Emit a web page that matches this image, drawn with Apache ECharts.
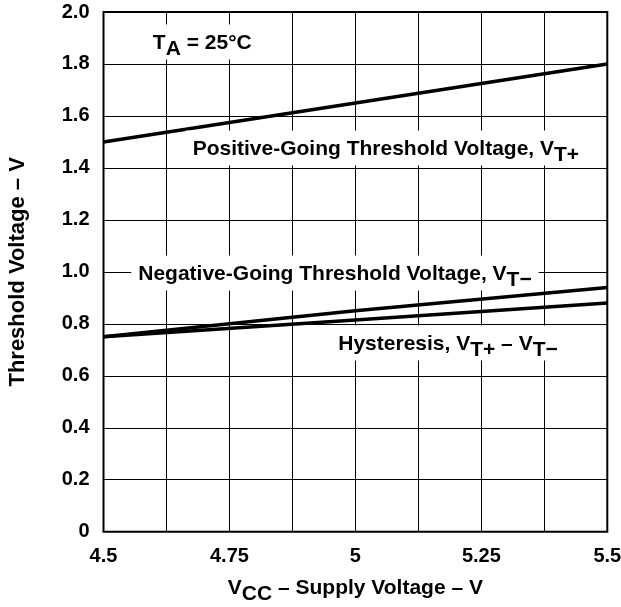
<!DOCTYPE html>
<html>
<head>
<meta charset="utf-8">
<script src="https://cdn.jsdelivr.net/npm/echarts@6/dist/echarts.min.js"></script>
<style>
html,body{margin:0;padding:0;background:#fff;}
#chart{width:621px;height:607px;}
</style>
</head>
<body>
<div id="chart"></div>
<script>
// ---- data ----
const supplyVoltage = [4.5, 5.0, 5.5];
const positiveGoing = [1.5, 1.65, 1.8];
const negativeGoing = [0.75, 0.85, 0.94];
const hysteresis = [0.75, 0.815, 0.88];
const xTickLabels = ['4.5', '4.75', '5', '5.25', '5.5'];
const yTickLabels = ['0', '0.2', '0.4', '0.6', '0.8', '1.0', '1.2', '1.4', '1.6', '1.8', '2.0'];

const FONT = '"Liberation Sans", Arial, Helvetica, sans-serif';
const chart = echarts.init(document.getElementById('chart'), null, {renderer: 'canvas'});

function pairs(xs, ys) { return xs.map((x, i) => [x, ys[i]]); }

const lineStyle = {color: '#000', width: 3.5};
function nS(size) { return {fontFamily: FONT, fontWeight: 'bold', fontSize: size, color: '#000'}; }
function sS(size) { return {fontFamily: FONT, fontWeight: 'bold', fontSize: size, color: '#000', padding: [12, 0, 0, 0]}; }

chart.setOption({
  animation: false,
  backgroundColor: '#fff',
  grid: {left: 103.5, right: 13.7, top: 12, bottom: 75.3, containLabel: false, outerBoundsMode: 'none',
         show: true, borderColor: '#000', borderWidth: 2, backgroundColor: 'transparent'},
  xAxis: {
    type: 'value', min: 4.5, max: 5.5, interval: 0.125,
    name: '{n|V}{s|CC}{n| – Supply Voltage – V}',
    nameLocation: 'middle', nameGap: 40,
    nameTextStyle: {rich: {n: nS(21), s: sS(21)}},
    axisLine: {show: false}, axisTick: {show: false},
    splitLine: {show: true, lineStyle: {color: '#000', width: 1}},
    axisLabel: {
      margin: 15, color: '#000', fontFamily: FONT, fontWeight: 'bold', fontSize: 20,
      formatter: function (v) {
        const k = Math.round((v - 4.5) / 0.25);
        if (Math.abs(v - (4.5 + k * 0.25)) > 1e-6) return '';
        return xTickLabels[k] || '';
      }
    }
  },
  yAxis: {
    type: 'value', min: 0, max: 2, interval: 0.2,
    name: 'Threshold Voltage – V',
    nameLocation: 'middle', nameGap: 75,
    nameTextStyle: {fontFamily: FONT, fontWeight: 'bold', fontSize: 22, color: '#000'},
    axisLine: {show: false}, axisTick: {show: false},
    splitLine: {show: true, lineStyle: {color: '#000', width: 1}},
    axisLabel: {
      margin: 14, color: '#000', fontFamily: FONT, fontWeight: 'bold', fontSize: 20,
      formatter: function (v) { return yTickLabels[Math.round(v / 0.2)] || ''; }
    }
  },
  series: [
    {name: 'Positive-Going', type: 'line', data: pairs(supplyVoltage, positiveGoing), symbol: 'none', lineStyle: lineStyle, z: 5},
    {name: 'Negative-Going', type: 'line', data: pairs(supplyVoltage, negativeGoing), symbol: 'none', lineStyle: lineStyle, z: 5},
    {name: 'Hysteresis', type: 'line', data: pairs(supplyVoltage, hysteresis), symbol: 'none', lineStyle: lineStyle, z: 5}
  ]
});

// annotations, anchored in data coordinates (left edge of text, vertical centre)
const annotations = [
  {text: '{n|T}{s|A}{n| = 25°C}', at: [4.598, 1.885]},
  {text: '{n|Positive-Going Threshold Voltage, V}{s|T+}', at: [4.677, 1.477]},
  {text: '{n|Negative-Going Threshold Voltage, V}{s|T−}', at: [4.569, 0.996]},
  {text: '{n|Hysteresis, V}{s|T+}{n| – V}{s|T−}', at: [4.966, 0.726]}
];
const padX = 7;
chart.setOption({
  graphic: annotations.map(a => {
    const p = chart.convertToPixel({gridIndex: 0}, a.at);
    return {
      type: 'text', z: 10, x: p[0] - padX, y: p[1],
      style: {
        text: a.text, fill: '#000', align: 'left', verticalAlign: 'middle',
        backgroundColor: '#fff', padding: [2, padX, 0, padX],
        rich: {n: nS(21), s: sS(21)}
      }
    };
  })
});
</script>
</body>
</html>
